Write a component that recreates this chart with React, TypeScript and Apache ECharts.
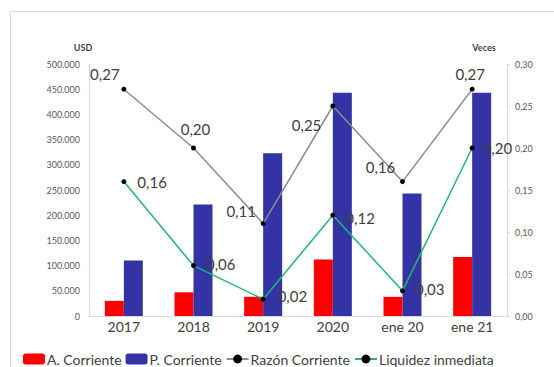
import React, { useEffect, useRef } from "react";
import * as echarts from "echarts";

const categories = ["2017", "2018", "2019", "2020", "ene 20", "ene 21"];
const activoCorriente = [30000, 47000, 38000, 112000, 38000, 117000];
const pasivoCorriente = [110000, 221000, 323000, 443000, 243000, 443000];
const razonCorriente = [0.27, 0.2, 0.11, 0.25, 0.16, 0.27];
const liquidezInmediata = [0.16, 0.06, 0.02, 0.12, 0.03, 0.2];

const razonLabelPlacement: any[] = [
  { position: "top", offset: [-19, 0] },
  { position: "top", offset: [2, -4] },
  { position: "top", offset: [-22, 2] },
  { position: "left", offset: [-4, 19] },
  { position: "top", offset: [-22, 0] },
  { position: "top", offset: [-2, 0] },
];
const liquidezLabelOffsets: number[][] = [
  [6, 0],
  [5, -2],
  [7, -3],
  [5, 3],
  [5, -2],
  [3, 0],
];

const fmtThousands = (v: number) =>
  String(Math.round(v)).replace(/\B(?=(\d{3})+(?!\d))/g, ".");
const fmtDec = (v: number) => v.toFixed(2).replace(".", ",");

const FONT = "Lato, 'Open Sans', sans-serif";

export default function App() {
  const ref = useRef<HTMLDivElement>(null);
  useEffect(() => {
    if (!ref.current) return;
    const chart = echarts.init(ref.current, undefined, { renderer: "svg" });
    const dataLabel = {
      show: true,
      fontSize: 15,
      color: "#404040",
      fontFamily: FONT,
      formatter: (p: any) => fmtDec(p.value),
    };
    chart.setOption({
      animation: false,
      backgroundColor: "#ffffff",
      textStyle: { fontFamily: FONT },
      graphic: [
        {
          type: "rect",
          z: -10,
          silent: true,
          shape: { x: 10.5, y: 11.5, width: 600, height: 400 },
          style: { fill: "none", stroke: "#d9d9d9", lineWidth: 1 },
        },
      ],
      grid: { left: 89, right: 47, top: 64, bottom: 51, containLabel: false },
      legend: {
        show: true,
        left: 18,
        top: 347,
        width: 900,
        itemGap: 4,
        itemWidth: 22,
        itemHeight: 11,
        textStyle: {
          fontSize: 14,
          lineHeight: 14,
          color: "#404040",
          fontFamily: FONT,
          padding: [0, 0, 0, -3],
        },
        data: ["A. Corriente", "P. Corriente", "Razón Corriente", "Liquidez inmediata"],
      },
      xAxis: {
        type: "category",
        data: categories,
        axisLine: { show: true, lineStyle: { color: "#d9d9d9" } },
        axisTick: { show: false },
        axisLabel: { fontSize: 14, color: "#404040", margin: 3, fontFamily: FONT },
      },
      yAxis: [
        {
          type: "value",
          min: 0,
          max: 500000,
          interval: 50000,
          name: "USD",
          nameLocation: "end",
          nameGap: 12,
          nameTextStyle: {
            fontSize: 9,
            fontWeight: "bold",
            color: "#404040",
            padding: [0, 12, 0, 0],
          },
          axisLine: { show: true, lineStyle: { color: "#d9d9d9" } },
          axisTick: { show: false },
          splitLine: { show: false },
          axisLabel: {
            fontSize: 9,
            color: "#595959",
            margin: 9,
            formatter: (v: number) => fmtThousands(v),
          },
        },
        {
          type: "value",
          min: 0,
          max: 0.3,
          interval: 0.05,
          name: "Veces",
          nameLocation: "end",
          nameGap: 12,
          nameTextStyle: {
            fontSize: 9,
            fontWeight: "bold",
            color: "#404040",
            padding: [0, 46, 0, 0],
          },
          axisLine: { show: true, lineStyle: { color: "#d9d9d9" } },
          axisTick: { show: true, length: 3, lineStyle: { color: "#d9d9d9" } },
          splitLine: { show: false },
          axisLabel: {
            fontSize: 9,
            color: "#595959",
            margin: 8,
            formatter: (v: number) => fmtDec(v),
          },
        },
      ],
      series: [
        {
          name: "A. Corriente",
          type: "bar",
          data: activoCorriente,
          barWidth: 19,
          barGap: "0%",
          itemStyle: { color: "#ff0000" },
        },
        {
          name: "P. Corriente",
          type: "bar",
          data: pasivoCorriente,
          barWidth: 19,
          barGap: "0%",
          itemStyle: { color: "#3333a6" },
        },
        {
          name: "Razón Corriente",
          type: "line",
          yAxisIndex: 1,
          data: razonCorriente.map((v, i) => ({
            value: v,
            label: { ...dataLabel, ...razonLabelPlacement[i] },
          })),
          symbol: "circle",
          symbolSize: 5,
          itemStyle: { color: "#000000" },
          lineStyle: { color: "#8c8c8c", width: 1.5 },
          label: dataLabel,
          z: 5,
        },
        {
          name: "Liquidez inmediata",
          type: "line",
          yAxisIndex: 1,
          data: liquidezInmediata.map((v, i) => ({
            value: v,
            label: { ...dataLabel, position: "right", offset: liquidezLabelOffsets[i] },
          })),
          symbol: "circle",
          symbolSize: 5,
          itemStyle: { color: "#000000" },
          lineStyle: { color: "#1fb86e", width: 1.5 },
          label: dataLabel,
          z: 5,
        },
      ],
    });
    return () => chart.dispose();
  }, []);
  return <div ref={ref} style={{ width: 554, height: 367, position: "absolute", left: 0, top: 0 }} />;
}
